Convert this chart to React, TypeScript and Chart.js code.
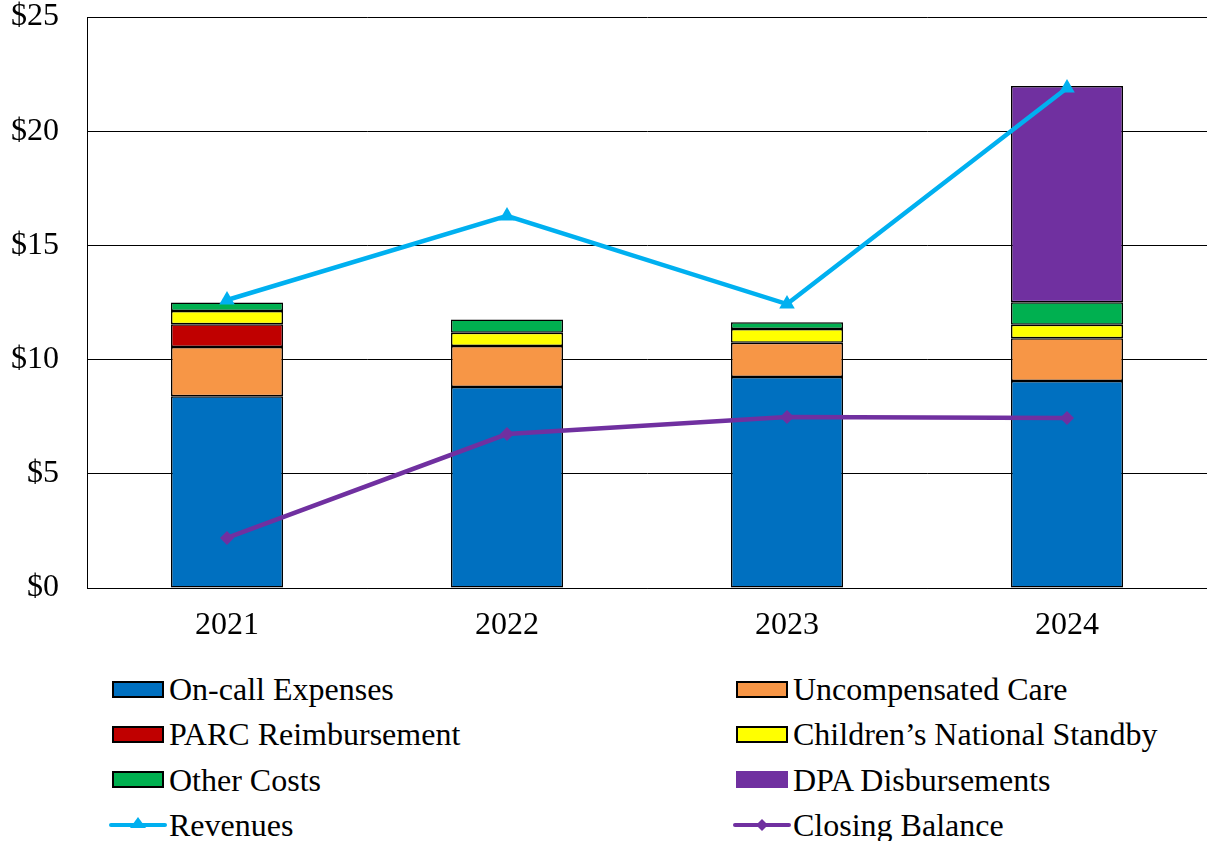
import React, { useEffect, useRef } from "react";
import { Chart, registerables } from "chart.js";

Chart.register(...registerables);

const years = ["2021", "2022", "2023", "2024"];
const onCall = [8.4, 8.8, 9.24, 9.06];
const uncompensated = [2.15, 1.8, 1.5, 1.87];
const parc = [1.0, null, null, null];
const childrens = [0.58, 0.58, 0.6, 0.6];
const otherCosts = [0.37, 0.58, 0.3, 0.98];
const dpa = [null, null, null, 9.47];
const revenues = [12.61, 16.29, 12.43, 21.89];
const closingBalance = [2.19, 6.74, 7.49, 7.44];
const yTicks = [0, 5, 10, 15, 20, 25];

const FONT = '"Liberation Serif", "Times New Roman", serif';

type LegendItem = { label: string; color: string; kind: "box" | "boxNoBorder" | "tri" | "diamond" };
const legendItems: LegendItem[] = [
  { label: "On-call Expenses", color: "#0070C0", kind: "box" },
  { label: "Uncompensated Care", color: "#F79646", kind: "box" },
  { label: "PARC Reimbursement", color: "#C00000", kind: "box" },
  { label: "Children\u2019s National Standby", color: "#FFFF00", kind: "box" },
  { label: "Other Costs", color: "#00B050", kind: "box" },
  { label: "DPA Disbursements", color: "#7030A0", kind: "boxNoBorder" },
  { label: "Revenues", color: "#00B0F0", kind: "tri" },
  { label: "Closing Balance", color: "#7030A0", kind: "diamond" },
];

function Marker({ item }: { item: LegendItem }) {
  if (item.kind === "box" || item.kind === "boxNoBorder") {
    return (
      <div style={{ width: 58, display: "flex", justifyContent: "center", alignItems: "center" }}>
        <div
          style={{
            width: item.kind === "box" ? 48 : 52,
            height: item.kind === "box" ? 13 : 17,
            background: item.color,
            border: item.kind === "box" ? "2px solid #000" : "none",
          }}
        />
      </div>
    );
  }
  return (
    <svg width={58} height={20} style={{ display: "block" }}>
      <line x1={2} y1={10} x2={56} y2={10} stroke={item.color} strokeWidth={4} strokeLinecap="round" />
      {item.kind === "tri" ? (
        <polygon points="29,2 37,13 21,13" fill={item.color} />
      ) : (
        <polygon points="29,4 35,10 29,16 23,10" fill={item.color} />
      )}
    </svg>
  );
}

export default function App() {
  const ref = useRef<HTMLCanvasElement | null>(null);

  useEffect(() => {
    document.body.style.margin = "0";
    const ctx = ref.current!.getContext("2d")!;
    const barCommon = { type: "bar" as const, borderColor: "#000", borderWidth: 1.5, borderSkipped: false, stack: "costs", order: 1, barPercentage: 0.4, categoryPercentage: 1 };
    const chart = new Chart(ctx, {
      type: "bar",
      data: {
        labels: years,
        datasets: [
          { ...barCommon, label: "On-call Expenses", data: onCall, backgroundColor: "#0070C0" },
          { ...barCommon, label: "Uncompensated Care", data: uncompensated, backgroundColor: "#F79646" },
          { ...barCommon, label: "PARC Reimbursement", data: parc, backgroundColor: "#C00000" },
          { ...barCommon, label: "Children\u2019s National Standby", data: childrens, backgroundColor: "#FFFF00" },
          { ...barCommon, label: "Other Costs", data: otherCosts, backgroundColor: "#00B050" },
          { ...barCommon, label: "DPA Disbursements", data: dpa, backgroundColor: "#7030A0" },
          {
            type: "line" as const,
            label: "Revenues",
            data: revenues,
            borderColor: "#00B0F0",
            backgroundColor: "#00B0F0",
            borderWidth: 4.5,
            pointStyle: "triangle",
            pointRadius: 9,
            pointBorderWidth: 0,
            stack: "rev",
            order: 0,
            tension: 0,
          },
          {
            type: "line" as const,
            label: "Closing Balance",
            data: closingBalance,
            borderColor: "#7030A0",
            backgroundColor: "#7030A0",
            borderWidth: 4.5,
            pointStyle: "rectRot",
            pointRadius: 7,
            pointBorderWidth: 0,
            stack: "bal",
            order: 0,
            tension: 0,
          },
        ] as any,
      },
      options: {
        animation: false,
        responsive: false,
        layout: { autoPadding: false, padding: { top: 17, right: -5, left: 0, bottom: 0 } },
        plugins: { legend: { display: false }, tooltip: { enabled: false } },
        scales: {
          x: {
            stacked: true,
            grid: { display: false, drawTicks: false },
            border: { display: true, color: "#000", width: 1 },
            ticks: { color: "#000", font: { family: FONT, size: 32 }, padding: 18 },
            afterFit: (s: any) => { s.height = 72; s.paddingLeft = 0; s.paddingRight = 0; },
          },
          y: {
            stacked: true,
            min: 0,
            max: 25,
            afterBuildTicks: (s: any) => { s.ticks = yTicks.map((v) => ({ value: v })); },
            grid: { color: "#000", lineWidth: 1, drawTicks: false },
            border: { display: true, color: "#000", width: 1 },
            ticks: {
              color: "#000",
              font: { family: FONT, size: 32 },
              padding: 28,
              callback: (v: any) => "$" + v,
            },
            afterFit: (s: any) => { s.width = 87; s.paddingTop = 0; s.paddingBottom = 0; s.paddingLeft = 0; s.paddingRight = 0; },
          },
        },
      },
    });
    return () => chart.destroy();
  }, []);

  return (
    <div style={{ position: "absolute", left: 0, top: 0, width: 1207, height: 841, background: "#fff", fontFamily: FONT }}>
      <canvas ref={ref} width={1207} height={660} style={{ display: "block", width: 1207, height: 660 }} />
      <div style={{ position: "absolute", left: 0, top: 666, width: 1207 }}>
        {legendItems.map((item, i) => {
          const col = i % 2;
          const row = Math.floor(i / 2);
          return (
            <div
              key={item.label}
              style={{
                position: "absolute",
                left: col === 0 ? 109 : 733,
                top: row * 45.3,
                height: 46,
                display: "flex",
                alignItems: "center",
                whiteSpace: "nowrap",
              }}
            >
              <Marker item={item} />
              <span style={{ fontSize: 32, color: "#000", marginLeft: 2, lineHeight: "46px" }}>{item.label}</span>
            </div>
          );
        })}
      </div>
    </div>
  );
}
